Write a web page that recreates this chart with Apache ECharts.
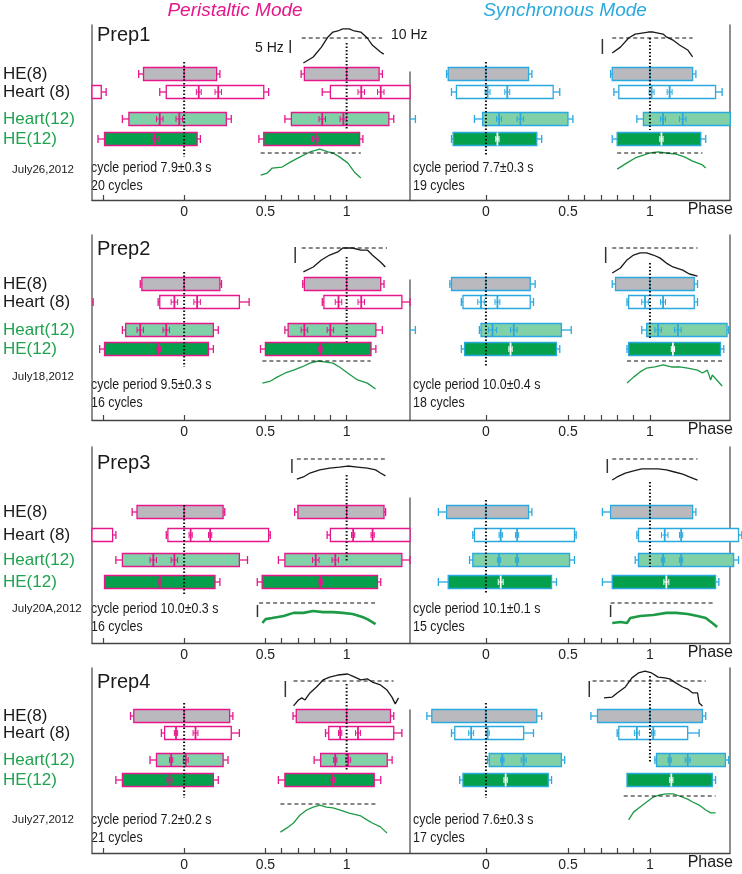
<!DOCTYPE html>
<html>
<head>
<meta charset="utf-8">
<script src="https://cdn.jsdelivr.net/npm/echarts@6/dist/echarts.min.js"></script>
<style>
  html, body { margin: 0; padding: 0; background: #fff; }
  #chart { width: 742px; height: 874px; }
</style>
</head>
<body>
<div id="chart"></div>
<script>
// ---- data: phase diagrams, one row per bar: [row, start, end, startErr, endErr, mark1, err1, mark2, err2]
// rows: 0 HE(8), 1 Heart (8), 2 Heart(12), 3 HE(12)
const rowNames = ['HE(8)', 'Heart (8)', 'Heart(12)', 'HE(12)'];

const prep1Peri = [
  [0, -0.25, 0.20, 0.03, 0.02, 0, 0], [0, 0.74, 1.20, 0.02, 0.02, 1, 0],
  [1, -0.90, -0.51, 0.03, 0.03], [1, -0.11, 0.49, 0.04, 0.03, 0.09, 0.015, 0.21, 0.02], [1, 0.90, 1.48, 0.05, 0.03, 1.09, 0.02, 1.21, 0.02],
  [2, -0.34, 0.26, 0.04, 0.03, -0.15, 0.02, -0.03, 0.02], [2, 0.66, 1.26, 0.04, 0.03, 0.85, 0.02, 0.98, 0.02],
  [3, -0.49, 0.08, 0.04, 0.02, -0.18, 0.02], [3, 0.49, 1.08, 0.03, 0.02, 0.81, 0.02]
];
const prep1Sync = [
  [0, -0.23, 0.26, 0.01, 0.02, 0, 0], [0, 0.77, 1.26, 0.01, 0.02, 1, 0],
  [1, -0.18, 0.41, 0.03, 0.04, 0.01, 0.015, 0.13, 0.015], [1, 0.81, 1.40, 0.03, 0.04, 1.01, 0.015, 1.12, 0.015],
  [2, -0.85, -0.47, 0.04, 0.04], [2, -0.02, 0.50, 0.05, 0.03, 0.08, 0.015, 0.21, 0.02], [2, 0.96, 1.49, 0.04, 0, 1.08, 0.015, 1.20, 0.02],
  [3, -0.20, 0.31, 0.01, 0.03, 0.07, 0.01], [3, 0.80, 1.31, 0.03, 0.03, 1.07, 0.01]
];
const prep2Peri = [
  [0, -0.26, 0.22, 0.01, 0.01, 0, 0], [0, 0.74, 1.21, 0.01, 0.02, 1, 0],
  [1, -0.95, -0.59, 0.03, 0.03], [1, -0.15, 0.34, 0.01, 0.06, -0.06, 0.02, 0.08, 0.02], [1, 0.86, 1.34, 0.01, 0.05, 0.95, 0.02, 1.09, 0.02],
  [2, -0.36, 0.18, 0.02, 0.03, -0.27, 0.02, -0.11, 0.02], [2, 0.64, 1.18, 0.02, 0.04, 0.74, 0.02, 0.90, 0.02],
  [3, -0.49, 0.15, 0.03, 0.03, -0.16, 0.015], [3, 0.50, 1.15, 0.03, 0.03, 0.84, 0.015]
];
const prep2Sync = [
  [0, -0.21, 0.27, 0.01, 0.03, 0, 0], [0, 0.79, 1.27, 0.02, 0.02, 1, 0],
  [1, -0.14, 0.27, 0.01, 0.02, -0.03, 0.02, 0.07, 0.015], [1, 0.87, 1.27, 0.01, 0.02, 0.97, 0.02, 1.08, 0.015],
  [2, -0.85, -0.47, 0.04, 0.04], [2, -0.03, 0.46, 0.01, 0.06, 0.04, 0.025, 0.17, 0.02], [2, 0.98, 1.47, 0.03, 0.01, 1.05, 0.02, 1.17, 0.02],
  [3, -0.13, 0.43, 0.02, 0.02, 0.15, 0.01], [3, 0.87, 1.43, 0.01, 0.02, 1.14, 0.01]
];
const prep3Peri = [
  [0, -0.29, 0.24, 0.03, 0.01, 0, 0], [0, 0.70, 1.23, 0.02, 0.01, 1, 0],
  [1, -0.95, -0.44, 0.02, 0.02], [1, -0.10, 0.52, 0.01, 0.01, 0.04, 0.01, 0.16, 0.01], [1, 0.90, 1.55, 0.02, 0.02, 1.04, 0.01, 1.16, 0.01],
  [2, -0.38, 0.34, 0.04, 0.05, -0.19, 0.02, -0.06, 0.02], [2, 0.62, 1.34, 0.04, 0.05, 0.81, 0.02, 0.93, 0.02],
  [3, -0.49, 0.19, 0, 0.03, -0.15, 0.01], [3, 0.48, 1.19, 0.03, 0.02, 0.84, 0.01]
];
const prep3Sync = [
  [0, -0.24, 0.26, 0.05, 0.02, 0, 0], [0, 0.76, 1.26, 0.05, 0.02, 1, 0],
  [1, -0.07, 0.54, 0.01, 0.01, 0.09, 0.01, 0.19, 0.01], [1, 0.93, 1.54, 0.01, 0.02, 1.09, 0.02, 1.19, 0.01],
  [2, -0.08, 0.51, 0.02, 0.03, 0.08, 0.01, 0.19, 0.01], [2, 0.93, 1.51, 0.02, 0.03, 1.08, 0.01, 1.19, 0.01],
  [3, -0.23, 0.40, 0.06, 0.03, 0.09, 0.015], [3, 0.77, 1.40, 0.06, 0.02, 1.10, 0.015]
];
const prep4Peri = [
  [0, -0.31, 0.28, 0.02, 0.02, 0, 0], [0, 0.69, 1.27, 0.02, 0.02, 1, 0],
  [1, -0.12, 0.29, 0.02, 0.05, -0.05, 0.01, 0.07, 0.015], [1, 0.89, 1.29, 0.02, 0.05, 0.96, 0.01, 1.07, 0.015],
  [2, -0.17, 0.24, 0.04, 0.03, -0.08, 0.01, 0.01, 0.015], [2, 0.84, 1.25, 0.04, 0.03, 0.93, 0.01, 1.01, 0.015],
  [3, -0.38, 0.18, 0.04, 0.03, -0.09, 0.015], [3, 0.62, 1.17, 0.04, 0.04, 0.91, 0.015]
];
const prep4Sync = [
  [0, -0.33, 0.31, 0.03, 0.03, 0, 0], [0, 0.68, 1.32, 0.04, 0.02, 1, 0],
  [1, -0.19, 0.23, 0.02, 0.06, -0.09, 0.015, 0.01, 0.01], [1, 0.81, 1.23, 0.01, 0.07, 0.92, 0.015, 1.02, 0.01],
  [2, 0.02, 0.46, 0.01, 0.02, 0.10, 0.01, 0.23, 0.015], [2, 1.04, 1.46, 0.01, 0.02, 1.12, 0.01, 1.23, 0.015],
  [3, -0.14, 0.38, 0.02, 0.02, 0.12, 0.01], [3, 0.86, 1.38, 0, 0.02, 1.13, 0.01]
];

// ---- firing rate curves [phase, Hz]; black = HE(8), green = HE(12)
const prep1PeriRate = [[0.74,0.4],[0.80,2.7],[0.85,6.5],[0.89,10.4],[0.92,12.3],[0.95,12.7],[0.98,13.5],[1.02,13.5],[1.05,12.7],[1.09,12.3],[1.13,10.0],[1.16,7.3],[1.21,4.6],[1.23,3.8]];
const prep1SyncRate = [[0.77,4.2],[0.82,6.5],[0.87,10.0],[0.91,11.5],[0.95,11.9],[0.99,12.3],[1.02,12.3],[1.05,11.9],[1.08,11.5],[1.10,10.4],[1.14,9.2],[1.18,7.3],[1.23,5.4],[1.26,2.7]];
const prep1PeriHE12 = [[0.48,1.5],[0.52,2.3],[0.55,4.2],[0.61,4.6],[0.66,6.5],[0.72,8.5],[0.78,10.4],[0.84,11.5],[0.89,10.4],[0.92,10.0],[0.96,8.5],[1.01,6.2],[1.05,2.7],[1.09,0.4]];
const prep1SyncHE12 = [[0.80,3.8],[0.86,6.2],[0.91,8.1],[0.96,9.2],[1.00,10.0],[1.05,10.4],[1.10,10.0],[1.16,9.6],[1.21,8.5],[1.26,6.9],[1.32,5.4],[1.34,4.2]];
const prep2PeriRate = [[0.74,0.8],[0.80,2.7],[0.85,5.4],[0.90,7.3],[0.95,8.5],[0.98,10.0],[1.01,10.0],[1.04,10.0],[1.09,9.2],[1.13,9.2],[1.16,7.3],[1.21,4.6],[1.24,2.7]];
const prep2SyncRate = [[0.77,0.4],[0.82,2.3],[0.86,5.4],[0.90,7.3],[0.94,8.1],[0.98,8.1],[1.02,7.3],[1.06,6.2],[1.10,4.2],[1.14,2.7],[1.20,1.5],[1.24,0.0],[1.29,-0.8]];
const prep2PeriHE12 = [[0.49,1.5],[0.54,2.3],[0.58,3.8],[0.63,5.4],[0.68,6.5],[0.73,7.7],[0.78,9.2],[0.83,10.0],[0.88,9.6],[0.92,9.2],[0.96,7.7],[1.01,5.4],[1.07,2.7],[1.13,1.5],[1.18,-0.8]];
const prep2SyncHE12 = [[0.86,1.5],[0.90,3.8],[0.94,5.8],[0.98,7.3],[1.03,7.7],[1.08,8.5],[1.13,7.7],[1.18,7.7],[1.23,7.3],[1.29,6.5],[1.32,5.4],[1.35,6.5],[1.37,2.7],[1.38,4.6],[1.44,0.4]];
const prep3PeriRate = [[0.70,2.3],[0.74,3.1],[0.78,4.6],[0.84,5.8],[0.90,6.5],[0.96,6.9],[1.01,7.3],[1.07,6.9],[1.13,6.5],[1.18,5.8],[1.21,4.6],[1.24,3.5]];
const prep3SyncRate = [[0.77,1.9],[0.80,3.1],[0.85,4.6],[0.90,5.4],[0.95,6.2],[1.00,6.2],[1.05,6.2],[1.10,5.8],[1.15,5.0],[1.20,4.2],[1.24,3.1],[1.29,1.9]];
const prep3PeriHE12 = [[0.49,2.3],[0.51,3.8],[0.55,4.2],[0.62,5.0],[0.68,6.2],[0.74,6.2],[0.80,6.9],[0.86,6.5],[0.92,6.5],[0.98,6.2],[1.04,5.8],[1.10,4.6],[1.13,3.8],[1.18,1.9]];
const prep3SyncHE12 = [[0.77,2.3],[0.82,2.7],[0.86,2.3],[0.88,4.2],[0.94,5.0],[1.02,5.4],[1.10,6.2],[1.16,6.2],[1.23,5.8],[1.29,5.0],[1.34,4.2],[1.38,2.3],[1.41,0.8]];
const prep4PeriRate = [[0.68,0.4],[0.71,2.7],[0.73,3.5],[0.75,2.7],[0.78,5.4],[0.82,7.7],[0.86,10.4],[0.90,11.5],[0.95,12.3],[1.01,12.7],[1.04,11.9],[1.09,10.4],[1.13,10.8],[1.16,9.6],[1.21,8.5],[1.25,6.5],[1.28,3.8],[1.30,1.2],[1.32,3.5]];
const prep4SyncRate = [[0.72,3.5],[0.77,3.8],[0.80,5.4],[0.85,7.7],[0.89,11.2],[0.93,13.1],[0.97,13.8],[1.01,13.1],[1.05,11.5],[1.09,11.2],[1.12,10.8],[1.16,9.2],[1.20,7.7],[1.23,6.9],[1.26,5.4],[1.29,5.4],[1.30,1.5],[1.32,0.4]];
const prep4PeriHE12 = [[0.60,-0.8],[0.64,0.8],[0.68,2.7],[0.72,5.8],[0.76,7.7],[0.80,8.8],[0.84,9.6],[0.88,8.8],[0.92,8.5],[0.96,7.7],[1.02,6.5],[1.09,5.4],[1.13,3.8],[1.16,2.7],[1.21,1.2],[1.25,-1.2]];
const prep4SyncHE12 = [[0.87,0.8],[0.90,3.8],[0.94,5.8],[0.98,7.7],[1.02,9.6],[1.06,10.4],[1.10,10.8],[1.14,10.8],[1.18,10.0],[1.23,8.8],[1.26,7.7],[1.30,6.5],[1.34,4.6],[1.37,3.5],[1.40,3.5]];

// ---- labels
const prepNames = ['Prep1', 'Prep2', 'Prep3', 'Prep4'];
const dates = ['July26,2012', 'July18,2012', 'July20A,2012', 'July27,2012'];
const periPeriods = ['7.9±0.3', '9.5±0.3', '10.0±0.3', '7.2±0.2'];
const periCycles = [20, 16, 16, 21];
const syncPeriods = ['7.7±0.3', '10.0±0.4', '10.1±0.1', '7.6±0.3'];
const syncCycles = [19, 18, 15, 17];
const tickValuesLeft = [-0.5, 0, 0.5, 0.6, 0.7, 0.8, 0.9, 1];
const tickValuesRight = [0, 0.5, 0.6, 0.7, 0.8, 0.9, 1];
const tickLabels = [0, 0.5, 1];

// ---- look & layout
const MAGENTA = '#e5178a';
const CYAN = '#29a9df';
const GREEN_TEXT = '#1fa34f';
const ROW_FILL = ['#bababe', '#ffffff', '#80d0a8', '#05a04b'];
const FONT = '"Liberation Sans", Arial, sans-serif';
const SIDES = [
  { left: 89, width: 321, min: -0.567, max: 1.39, color: MAGENTA, overhang: 0, ticks: tickValuesLeft },
  { left: 410, width: 320, min: -0.463, max: 1.488, color: CYAN, overhang: 12, ticks: tickValuesRight }
];
const PREP_TOP = [25, 235, 447, 668];
const PREP_AXIS = [200, 420, 643, 853];
const ROW_Y = [[49, 67, 94, 114], [49, 67, 95, 114], [65, 88, 113, 135], [48, 65, 92, 112]];
const DIVIDER_TOP = [72, 280, 498, 710];
// dotted guides at phase 0 and 1: [top, bottom] offsets in each panel, [peri, sync]
const GUIDES = [
  [[[37, 132], [18, 104]], [[37, 131], [13, 105]]],
  [[[37, 132], [22, 107]], [[38, 132], [28, 105]]],
  [[[58, 147], [28, 115]], [[53, 147], [35, 120]]],
  [[[35, 130], [16, 103]], [[35, 130], [8, 95]]]
];
const K = 2.6; // px per Hz

const bars = [[prep1Peri, prep1Sync], [prep2Peri, prep2Sync], [prep3Peri, prep3Sync], [prep4Peri, prep4Sync]];
const curves = [
  { p: 0, s: 0, data: prep1PeriRate, black: true, dashY: 38, dash: [0.73, 1.22], bar: [0.66, 9.2, 4.2] },
  { p: 0, s: 1, data: prep1SyncRate, black: true, dashY: 38, dash: [0.77, 1.26], bar: [0.71, 9.6, 3.8] },
  { p: 0, s: 0, data: prep1PeriHE12, dashY: 153, dash: [0.48, 1.09] },
  { p: 0, s: 1, data: prep1SyncHE12, dashY: 153, dash: [0.80, 1.32] },
  { p: 1, s: 0, data: prep2PeriRate, black: true, dashY: 248, dash: [0.73, 1.25], bar: [0.69, 10.4, 4.2] },
  { p: 1, s: 1, data: prep2SyncRate, black: true, dashY: 248, dash: [0.77, 1.29], bar: [0.73, 10.4, 4.2] },
  { p: 1, s: 0, data: prep2PeriHE12, dashY: 361, dash: [0.49, 1.15] },
  { p: 1, s: 1, data: prep2SyncHE12, dashY: 361, dash: [0.86, 1.45] },
  { p: 2, s: 0, data: prep3PeriRate, black: true, dashY: 459, dash: [0.70, 1.24], bar: [0.67, 10, 4.6] },
  { p: 2, s: 1, data: prep3SyncRate, black: true, dashY: 459, dash: [0.77, 1.29], bar: [0.74, 10, 4.6] },
  { p: 2, s: 0, data: prep3PeriHE12, dashY: 603, dash: [0.47, 1.19], bar: [0.46, 9.2, 4.6], thick: true },
  { p: 2, s: 1, data: prep3SyncHE12, dashY: 603, dash: [0.76, 1.40], bar: [0.76, 9.2, 4.6], thick: true },
  { p: 3, s: 0, data: prep4PeriRate, black: true, dashY: 681, dash: [0.68, 1.29], bar: [0.63, 10, 3.8] },
  { p: 3, s: 1, data: prep4SyncRate, black: true, dashY: 681, dash: [0.65, 1.34], bar: [0.63, 10, 3.8] },
  { p: 3, s: 0, data: prep4PeriHE12, dashY: 804, dash: [0.60, 1.19] },
  { p: 3, s: 1, data: prep4SyncHE12, dashY: 796, dash: [0.84, 1.40] }
];

const option = { animation: false, backgroundColor: '#fff', grid: [], xAxis: [], yAxis: [], series: [], graphic: [] };

function addGrid(grid, xAxis, yAxis) {
  option.grid.push(grid);
  const i = option.grid.length - 1;
  option.xAxis.push(Object.assign({ gridIndex: i }, xAxis));
  option.yAxis.push(Object.assign({ gridIndex: i }, yAxis));
  return i;
}

function makeBarRenderer(rows, p, s) {
  const S = SIDES[s];
  return function (params, api) {
    const [row, st, en, se, ee, m1, e1, m2, e2] = rows[params.dataIndex];
    const cs = params.coordSys;
    const xL = cs.x, xR = cs.x + cs.width + S.overhang;
    const X = v => api.coord([v, 0])[0];
    const yc = api.coord([0, ROW_Y[p][row]])[1];
    const hh = 6.5, cap = 4;
    const stroke = S.color;
    const kids = [];
    const line = (x1, y1, x2, y2, c, w) =>
      kids.push({ type: 'line', shape: { x1, y1, x2, y2 }, style: { stroke: c, lineWidth: w } });
    const hseg = (a, b, y, c, w) => {
      const x1 = Math.max(Math.min(a, b), xL), x2 = Math.min(Math.max(a, b), xR);
      if (x2 > x1) line(x1, y, x2, y, c, w);
    };
    const vseg = (x, y1, y2, c, w) => { if (x >= xL - 0.5 && x <= xR + 0.5) line(x, y1, x, y2, c, w); };

    if (se > 0) { hseg(X(st - se), X(st), yc, stroke, 1.3); vseg(X(st - se), yc - cap, yc + cap, stroke, 1.3); }
    if (ee > 0) { hseg(X(en), X(en + ee), yc, stroke, 1.3); vseg(X(en + ee), yc - cap, yc + cap, stroke, 1.3); }

    const bx1 = Math.max(X(st), xL), bx2 = Math.min(X(en), xR);
    if (bx2 > bx1) {
      kids.push({ type: 'rect', shape: { x: bx1, y: yc - hh, width: bx2 - bx1, height: 2 * hh },
        style: { fill: ROW_FILL[row], stroke, lineWidth: 1.3 } });
    }
    const markColor = (row === 3 && s === 1) ? '#ffffff' : stroke;
    [[m1, e1], [m2, e2]].forEach(([m, e]) => {
      if (m == null) return;
      vseg(X(m), yc - hh, yc + hh, markColor, row === 0 ? 1.3 : 1.8);
      if (e > 0) {
        hseg(X(m - e), X(m + e), yc, markColor, 1);
        vseg(X(m - e), yc - 3, yc + 3, markColor, 1);
        vseg(X(m + e), yc - 3, yc + 3, markColor, 1);
      }
    });
    return { type: 'group', children: kids };
  };
}

for (let p = 0; p < 4; p++) {
  const H = PREP_AXIS[p] - PREP_TOP[p];
  for (let s = 0; s < 2; s++) {
    const S = SIDES[s];
    const gi = addGrid(
      { left: S.left, width: S.width, top: PREP_TOP[p], height: H },
      {
        type: 'value', min: S.min, max: S.max,
        axisLine: { show: true, onZero: false, lineStyle: { color: '#444', width: 1.4 } },
        axisTick: { show: true, inside: true, length: 5, customValues: S.ticks, lineStyle: { color: '#444', width: 1.2 } },
        axisLabel: { customValues: tickLabels, color: '#222', fontSize: 14, margin: 5, fontFamily: FONT },
        splitLine: { show: false }
      },
      {
        type: 'value', min: 0, max: H, inverse: true, position: s === 0 ? 'left' : 'right',
        axisLine: { show: true, onZero: false, lineStyle: { color: '#6a6a6a', width: 1.5 } },
        axisTick: { show: false }, splitLine: { show: false },
        axisLabel: s === 0 ? {
          customValues: ROW_Y[p], align: 'left', margin: 89, fontSize: 17, fontFamily: FONT,
          formatter: v => {
            const r = ROW_Y[p].indexOf(v);
            return r < 2 ? '{k|' + rowNames[r] + '}' : '{g|' + rowNames[r] + '}';
          },
          rich: { k: { color: '#1a1a1a', fontSize: 17, fontFamily: FONT }, g: { color: GREEN_TEXT, fontSize: 17, fontFamily: FONT } }
        } : { show: false }
      }
    );
    const rows = bars[p][s];
    option.series.push({
      type: 'custom', xAxisIndex: gi, yAxisIndex: gi, silent: true, clip: false, z: 2,
      data: rows.map(r => [r[1], ROW_Y[p][r[0]]]),
      renderItem: makeBarRenderer(rows, p, s)
    });
    [0, 1].forEach(ph => {
      const g = GUIDES[p][s][ph];
      option.series.push({
        type: 'line', xAxisIndex: gi, yAxisIndex: gi, silent: true, symbol: 'none', z: 5,
        data: [[ph, g[0]], [ph, g[1]]],
        lineStyle: { color: '#111', width: 2, type: [1.5, 2] }
      });
    });
  }
  // partial divider between the two modes
  addGrid(
    { left: 410, width: 10, top: DIVIDER_TOP[p], height: PREP_AXIS[p] - DIVIDER_TOP[p] },
    { type: 'value', show: false, min: 0, max: 1 },
    { type: 'value', min: 0, max: 1, axisLine: { show: true, lineStyle: { color: '#6a6a6a', width: 1.5 } },
      axisTick: { show: false }, axisLabel: { show: false }, splitLine: { show: false } }
  );
}

curves.forEach(c => {
  const S = SIDES[c.s];
  const gi = addGrid(
    { left: S.left, width: S.width, top: c.dashY - 6 * K, height: 19 * K },
    { type: 'value', show: false, min: S.min, max: S.max },
    { type: 'value', show: false, min: -3, max: 16 }
  );
  const col = c.black ? '#1a1a1a' : '#1c9a45';
  option.series.push({
    type: 'line', xAxisIndex: gi, yAxisIndex: gi, silent: true, symbol: 'none', z: 3,
    data: c.data, lineStyle: { color: col, width: c.thick ? 2.6 : 1.3 }
  });
  option.series.push({
    type: 'line', xAxisIndex: gi, yAxisIndex: gi, silent: true, symbol: 'none', z: 3,
    data: [[c.dash[0], 10], [c.dash[1], 10]], lineStyle: { color: '#111', width: 1.2, type: [4, 3] }
  });
  if (c.bar) {
    option.series.push({
      type: 'line', xAxisIndex: gi, yAxisIndex: gi, silent: true, symbol: 'none', z: 3,
      data: [[c.bar[0], c.bar[1]], [c.bar[0], c.bar[2]]], lineStyle: { color: '#333', width: 1.5 }
    });
  }
});

function text(x, y, str, font, fill, align, scaleX) {
  option.graphic.push({ type: 'text', x, y, scaleX: scaleX || 1, silent: true,
    style: { text: str, font, fill, textAlign: align || 'left', textVerticalAlign: 'middle' } });
}

text(235, 11, 'Peristaltic Mode', 'italic 19px ' + FONT, MAGENTA, 'center');
text(565, 11, 'Synchronous Mode', 'italic 19px ' + FONT, CYAN, 'center');
text(255, 48, '5 Hz', '14px ' + FONT, '#1a1a1a');
text(391, 35, '10 Hz', '14px ' + FONT, '#1a1a1a');

const PREP_LABEL_Y = [35, 249, 463, 682];
const DATE_Y = [170, 377, 609, 820];
const CYCLE_Y = [168, 385, 609, 820];
const NARROW_FONT = '14.5px ' + FONT;
const SQUEEZE = 0.855;
for (let p = 0; p < 4; p++) {
  text(97, PREP_LABEL_Y[p], prepNames[p], '20px ' + FONT, '#1a1a1a');
  text(12, DATE_Y[p], dates[p], '11.5px ' + FONT, '#1a1a1a');
  text(91, CYCLE_Y[p], 'cycle period ' + periPeriods[p] + ' s', NARROW_FONT, '#1a1a1a', 'left', SQUEEZE);
  text(91, CYCLE_Y[p] + 18, periCycles[p] + ' cycles', NARROW_FONT, '#1a1a1a', 'left', SQUEEZE);
  text(413, CYCLE_Y[p], 'cycle period ' + syncPeriods[p] + ' s', NARROW_FONT, '#1a1a1a', 'left', SQUEEZE);
  text(413, CYCLE_Y[p] + 18, syncCycles[p] + ' cycles', NARROW_FONT, '#1a1a1a', 'left', SQUEEZE);
  text(733, PREP_AXIS[p] + 10, 'Phase', '16px ' + FONT, '#1a1a1a', 'right');
}

const chart = echarts.init(document.getElementById('chart'), null, { renderer: 'canvas' });
chart.setOption(option);
</script>
</body>
</html>
